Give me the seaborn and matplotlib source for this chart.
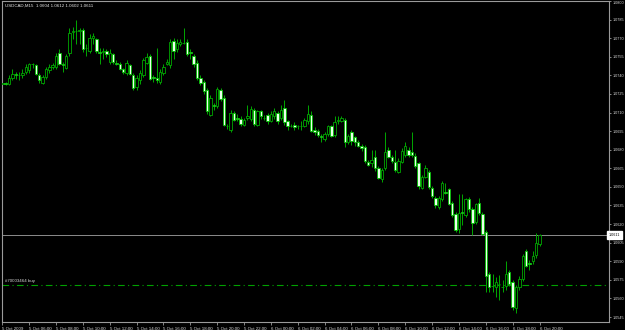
import matplotlib
matplotlib.use("Agg")
import matplotlib.pyplot as plt
import matplotlib.transforms as mtransforms
import numpy as np
import pandas as pd
import seaborn as sns

symbol_header = "USDCAD,M15  1.0604 1.0612 1.0602 1.0611"
order_label = "#70003464 buy"
order_price = 1.0571

opens = [1.0733,1.0734,1.0733,1.0738,1.0741,1.0740,1.0740,1.0743,1.0744,1.0749,
1.0748,1.0740,1.0734,1.0739,1.0744,1.0747,1.0747,1.0758,1.0749,1.0746,
1.0758,1.0775,1.0776,1.0776,1.0777,1.0762,1.0760,1.0770,1.0769,1.0759,
1.0759,1.0760,1.0751,1.0757,1.0750,1.0749,1.0745,1.0742,1.0748,1.0740,
1.0731,1.0736,1.0740,1.0750,1.0756,1.0739,1.0738,1.0735,1.0742,1.0749,
1.0748,1.0768,1.0761,1.0765,1.0766,1.0767,1.0759,1.0756,1.0750,1.0738,
1.0735,1.0728,1.0708,1.0716,1.0715,1.0728,1.0722,1.0699,1.0696,1.0710,
1.0706,1.0705,1.0700,1.0706,1.0705,1.0712,1.0700,1.0711,1.0706,1.0708,
1.0703,1.0707,1.0710,1.0706,1.0714,1.0703,1.0699,1.0700,1.0699,1.0699,
1.0699,1.0703,1.0708,1.0696,1.0695,1.0691,1.0689,1.0693,1.0699,1.0692,
1.0703,1.0703,1.0704,1.0686,1.0694,1.0690,1.0686,1.0683,1.0682,1.0670,
1.0669,1.0674,1.0665,1.0656,1.0665,1.0680,1.0674,1.0670,1.0662,1.0670,
1.0676,1.0680,1.0678,1.0675,1.0669,1.0649,1.0658,1.0662,1.0649,1.0641,
1.0634,1.0640,1.0646,1.0648,1.0637,1.0628,1.0616,1.0630,1.0627,1.0640,
1.0632,1.0622,1.0637,1.0628,1.0614,1.0580,1.0570,1.0569,1.0572,1.0569,
1.0570,1.0581,1.0573,1.0552,1.0569,1.0576,1.0598,1.0589,1.0590,1.0595,
1.0604]

highs = [1.0736,1.0735,1.0740,1.0745,1.0743,1.0743,1.0745,1.0749,1.0750,1.0750,
1.0749,1.0742,1.0740,1.0747,1.0749,1.0750,1.0758,1.0761,1.0751,1.0757,
1.0778,1.0779,1.0785,1.0778,1.0778,1.0765,1.0773,1.0774,1.0770,1.0762,
1.0762,1.0761,1.0761,1.0758,1.0752,1.0751,1.0746,1.0752,1.0749,1.0742,
1.0740,1.0744,1.0754,1.0758,1.0757,1.0740,1.0762,1.0745,1.0749,1.0753,
1.0769,1.0770,1.0769,1.0769,1.0778,1.0769,1.0761,1.0757,1.0752,1.0740,
1.0736,1.0730,1.0724,1.0718,1.0731,1.0730,1.0724,1.0701,1.0712,1.0711,
1.0709,1.0707,1.0706,1.0716,1.0715,1.0714,1.0712,1.0712,1.0708,1.0710,
1.0711,1.0714,1.0711,1.0716,1.0720,1.0704,1.0701,1.0702,1.0700,1.0703,
1.0706,1.0716,1.0711,1.0698,1.0697,1.0693,1.0694,1.0700,1.0700,1.0707,
1.0707,1.0707,1.0706,1.0693,1.0696,1.0691,1.0688,1.0685,1.0684,1.0672,
1.0680,1.0680,1.0667,1.0665,1.0694,1.0682,1.0676,1.0680,1.0673,1.0681,
1.0686,1.0682,1.0694,1.0677,1.0670,1.0660,1.0668,1.0664,1.0651,1.0643,
1.0643,1.0655,1.0653,1.0649,1.0639,1.0630,1.0644,1.0644,1.0641,1.0642,
1.0634,1.0637,1.0641,1.0630,1.0615,1.0581,1.0580,1.0577,1.0579,1.0575,
1.0590,1.0583,1.0575,1.0571,1.0578,1.0596,1.0600,1.0591,1.0598,1.0613,
1.0612]

lows = [1.0732,1.0732,1.0732,1.0736,1.0737,1.0736,1.0738,1.0741,1.0742,1.0746,
1.0740,1.0734,1.0733,1.0737,1.0742,1.0745,1.0745,1.0748,1.0743,1.0745,
1.0756,1.0769,1.0765,1.0765,1.0759,1.0756,1.0758,1.0765,1.0758,1.0749,
1.0753,1.0755,1.0749,1.0749,1.0748,1.0744,1.0741,1.0740,1.0740,1.0728,
1.0728,1.0733,1.0739,1.0749,1.0736,1.0735,1.0734,1.0733,1.0740,1.0748,
1.0746,1.0753,1.0759,1.0764,1.0765,1.0756,1.0753,1.0747,1.0736,1.0732,
1.0725,1.0709,1.0707,1.0712,1.0714,1.0719,1.0699,1.0697,1.0694,1.0703,
1.0703,1.0699,1.0699,1.0704,1.0703,1.0699,1.0699,1.0705,1.0704,1.0701,
1.0702,1.0705,1.0701,1.0704,1.0700,1.0696,1.0698,1.0696,1.0697,1.0696,
1.0698,1.0701,1.0694,1.0692,1.0690,1.0686,1.0687,1.0691,1.0690,1.0690,
1.0701,1.0702,1.0682,1.0685,1.0684,1.0683,1.0682,1.0679,1.0669,1.0667,
1.0666,1.0663,1.0656,1.0654,1.0664,1.0673,1.0669,1.0662,1.0661,1.0669,
1.0674,1.0674,1.0674,1.0665,1.0648,1.0648,1.0657,1.0648,1.0641,1.0633,
1.0632,1.0639,1.0644,1.0635,1.0626,1.0614,1.0613,1.0619,1.0626,1.0630,
1.0611,1.0620,1.0627,1.0611,1.0565,1.0565,1.0565,1.0561,1.0559,1.0565,
1.0567,1.0570,1.0551,1.0548,1.0567,1.0574,1.0585,1.0583,1.0588,1.0593,
1.0602]

closes = [1.0734,1.0733,1.0738,1.0741,1.0740,1.0740,1.0742,1.0747,1.0749,1.0749,
1.0741,1.0736,1.0739,1.0745,1.0747,1.0748,1.0756,1.0749,1.0748,1.0756,
1.0774,1.0776,1.0776,1.0777,1.0761,1.0762,1.0770,1.0772,1.0760,1.0758,
1.0760,1.0757,1.0758,1.0751,1.0749,1.0745,1.0743,1.0750,1.0741,1.0730,
1.0738,1.0742,1.0752,1.0755,1.0737,1.0738,1.0736,1.0743,1.0747,1.0751,
1.0767,1.0760,1.0766,1.0767,1.0766,1.0757,1.0758,1.0749,1.0738,1.0734,
1.0727,1.0711,1.0722,1.0715,1.0729,1.0721,1.0700,1.0699,1.0710,1.0704,
1.0705,1.0701,1.0704,1.0707,1.0713,1.0701,1.0711,1.0707,1.0706,1.0703,
1.0709,1.0711,1.0703,1.0712,1.0702,1.0699,1.0699,1.0698,1.0699,1.0699,
1.0704,1.0709,1.0695,1.0694,1.0692,1.0690,1.0693,1.0699,1.0691,1.0702,
1.0704,1.0706,1.0686,1.0691,1.0687,1.0686,1.0683,1.0681,1.0671,1.0668,
1.0672,1.0665,1.0657,1.0664,1.0678,1.0674,1.0671,1.0664,1.0671,1.0679,
1.0683,1.0676,1.0676,1.0667,1.0651,1.0658,1.0665,1.0650,1.0643,1.0635,
1.0641,1.0653,1.0645,1.0636,1.0627,1.0615,1.0629,1.0629,1.0640,1.0632,
1.0621,1.0636,1.0629,1.0612,1.0578,1.0569,1.0570,1.0573,1.0572,1.0569,
1.0580,1.0572,1.0553,1.0569,1.0576,1.0594,1.0586,1.0588,1.0594,1.0605,
1.0611]

time_labels = ["5 Oct 2009", "5 Oct 06:00", "5 Oct 08:00", "5 Oct 10:00", "5 Oct 12:00",
               "5 Oct 14:00", "5 Oct 16:00", "5 Oct 18:00", "5 Oct 20:00", "5 Oct 22:00",
               "6 Oct 00:00", "6 Oct 02:00", "6 Oct 04:00", "6 Oct 06:00", "6 Oct 08:00",
               "6 Oct 10:00", "6 Oct 12:00", "6 Oct 14:00", "6 Oct 16:00", "6 Oct 18:00",
               "6 Oct 20:00"]
bars_per_label = 8
price_ticks = [1.0800, 1.0785, 1.0770, 1.0755, 1.0740, 1.0725, 1.0710, 1.0695, 1.0680,
               1.0665, 1.0650, 1.0635, 1.0620, 1.0605, 1.0590, 1.0575, 1.0560, 1.0545]

df = pd.DataFrame({"open": opens, "high": highs, "low": lows, "close": closes})
df["bar"] = np.arange(len(df))
df["bull"] = df["close"] >= df["open"]

sns.set_theme(style="dark", rc={"axes.facecolor": "black", "figure.facecolor": "black",
                                "axes.edgecolor": "#9a9a9a", "text.color": "#d8d8d8",
                                "xtick.color": "#d8d8d8", "ytick.color": "#d8d8d8"})
plt.rcParams["font.family"] = ["Liberation Sans", "DejaVu Sans"]

FS = 3.2
YFS = 2.7
fig = plt.figure(figsize=(6.25, 3.3), dpi=100)
ax = fig.add_axes([2 / 625, 8 / 330, 607 / 625, 321 / 330])
ax.set_facecolor("black")

# wicks
ax.vlines(df["bar"], df["low"], df["high"], color="#00a800", lw=0.7, zorder=2)
# bodies
bull = df[df["bull"]]
bear = df[~df["bull"]]
ax.bar(bull["bar"], bull["close"] - bull["open"], bottom=bull["open"], width=0.72,
       facecolor="black", edgecolor="#00a800", linewidth=0.6, zorder=3)
ax.bar(bear["bar"], bear["open"] - bear["close"], bottom=bear["close"], width=0.72,
       facecolor="#eaffea", edgecolor="#00c000", linewidth=0.6, zorder=3)

# current price line + label
last = closes[-1]
ax.axhline(last, color="#8c8c8c", lw=0.7, zorder=1)
trans = mtransforms.blended_transform_factory(ax.transAxes, ax.transData)
ax.text(1.0, last, f"{last:.4f}", transform=trans, va="center", ha="left",
        fontsize=YFS, color="black", clip_on=False,
        bbox=dict(facecolor="white", edgecolor="white", pad=0.5, boxstyle="square"))

# order line
ax.axhline(order_price, color="#00a000", lw=0.8, ls=(0, (6, 3, 1, 3)), zorder=1)
ax.text(0.005, order_price + 0.00012, order_label, transform=trans, va="bottom",
        ha="left", fontsize=FS, color="#d8d8d8")

# header
ax.text(0.005, 0.992, symbol_header, transform=ax.transAxes, va="top", ha="left",
        fontsize=FS, color="#e8e8e8")

ax.set_xlim(-0.1, 180.7)
ax.set_ylim(1.05410, 1.08000)

ax.yaxis.tick_right()
ax.set_yticks(price_ticks)
ax.set_yticklabels([f"{p:.4f}" for p in price_ticks])
ax.set_xticks(np.arange(len(time_labels)) * bars_per_label)
ax.set_xticklabels(time_labels)
for lab in ax.get_xticklabels():
    lab.set_horizontalalignment("left")
ax.tick_params(axis="x", labelsize=FS, length=2, width=0.6, color="#9a9a9a", pad=1.5,
               bottom=True)
ax.tick_params(axis="y", labelsize=YFS, length=1.5, width=0.6, color="#9a9a9a", pad=0.8,
               right=True, left=False)
ax.get_yticklabels()[0].set_verticalalignment("top")
ax.grid(False)
for s in ax.spines.values():
    s.set_color("#9a9a9a")
    s.set_linewidth(0.8)

fig.savefig("out.png", dpi=100, facecolor="black")
